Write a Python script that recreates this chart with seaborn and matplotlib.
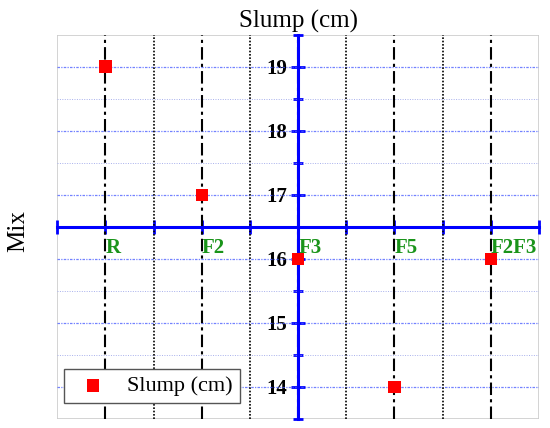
import matplotlib
matplotlib.use("Agg")
import matplotlib.pyplot as plt
from matplotlib.patches import Rectangle
from matplotlib.ticker import MultipleLocator, FixedLocator
import seaborn as sns
import pandas as pd

mixes = ["R", "F2", "F3", "F5", "F2F3"]
slump = [19, 17, 16, 14, 16]

sns.set_style("white")
plt.rcParams["font.family"] = ["Liberation Serif", "DejaVu Serif"]
plt.rcParams["text.color"] = "black"
plt.rcParams["axes.labelcolor"] = "black"

df = pd.DataFrame({"Mix": mixes, "Slump (cm)": slump})

fig = plt.figure(figsize=(5.5, 4.28), dpi=100)
ax = fig.add_axes([0.1042, 0.021, 0.8758, 0.898])

sns.scatterplot(data=df, x="Mix", y="Slump (cm)", marker="s", s=80,
                color="red", edgecolor="none", label="Slump (cm)", ax=ax, zorder=5)

ax.set_xlim(-0.5, 4.5)
ax.set_ylim(13.5, 19.5)

# grid lines
for v in range(14, 20):
    ax.axhline(v, color="#4458ff", lw=0.9, ls=(0, (2, 1, 1, 1)), alpha=0.75, zorder=1)
    ax.axhline(v - 0.5, color="#a8b0ec", lw=0.7, ls=(0, (1, 1.5)), zorder=1)
for i in range(len(mixes)):
    ax.axvline(i, color="black", lw=1.5, ls=(0, (6, 2, 1.5, 2)), zorder=2)
for i in range(len(mixes) - 1):
    ax.axvline(i + 0.5, color="black", lw=1.2, ls=(0, (1, 1)), zorder=2)

# central blue axes
ax.spines["left"].set_position(("data", 2))
ax.spines["bottom"].set_position(("data", 16.5))
for s in ["left", "bottom"]:
    ax.spines[s].set_color("blue")
    ax.spines[s].set_linewidth(2.2)
    ax.spines[s].set_zorder(4)
for s in ["top", "right"]:
    ax.spines[s].set_visible(False)
ax.add_patch(Rectangle((0, 0), 1, 1, transform=ax.transAxes, fill=False,
                       edgecolor="#cccccc", lw=1.2, zorder=0))

ax.set_xticks(range(len(mixes)))
ax.set_xticklabels(mixes)
ax.xaxis.set_minor_locator(FixedLocator([-0.5, 0.5, 1.5, 2.5, 3.5, 4.5]))
ax.yaxis.set_major_locator(MultipleLocator(1))
ax.yaxis.set_minor_locator(FixedLocator([13.5, 14.5, 15.5, 16.5, 17.5, 18.5, 19.5]))

ax.tick_params(axis="x", which="both", direction="inout", length=10, width=2,
               color="blue", pad=3, labelsize=15, labelcolor="#1a941a")
ax.tick_params(axis="y", which="major", direction="inout", length=10, width=2,
               color="blue", pad=3, labelsize=15, labelcolor="black")
ax.tick_params(axis="y", which="minor", direction="inout", length=7, width=2,
               color="blue")
ax.tick_params(which="both", left=True, bottom=True)

for lab in ax.get_xticklabels():
    lab.set_horizontalalignment("left")
    lab.set_fontweight("bold")
for lab in ax.get_yticklabels():
    lab.set_fontweight("bold")

ax.set_xlabel("")
ax.set_ylabel("Mix", fontsize=18)
ax.yaxis.set_label_coords(-0.058, 0.49)
ax.set_title("Slump (cm)", fontsize=18, pad=5)

ax.legend(loc="lower left", bbox_to_anchor=(0.014, 0.042), borderaxespad=0,
          fontsize=16, fancybox=False, edgecolor="#555555", framealpha=1,
          handletextpad=0.55, borderpad=0.3, markerscale=1.0)

fig.savefig("out.png", dpi=100)
